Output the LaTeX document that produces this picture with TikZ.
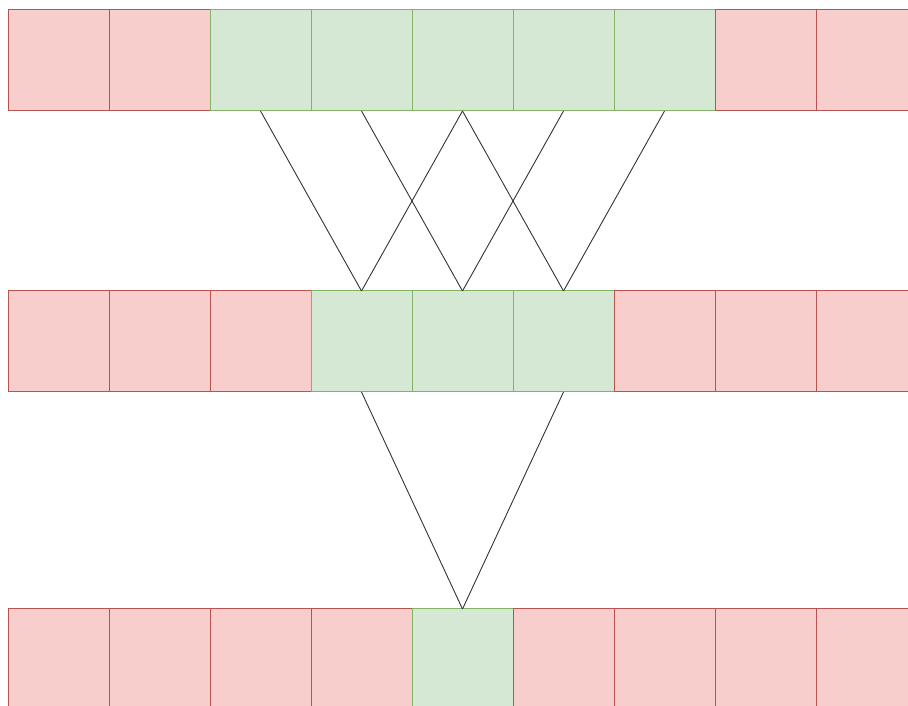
\documentclass[tikz,border=0pt]{standalone}
\usepackage{xcolor}
\usepackage{tikz}
\usetikzlibrary{positioning}
\definecolor{rojoFill}{HTML}{F8CECC}
\definecolor{rojoDraw}{HTML}{B85450}
\definecolor{verdeFill}{HTML}{D5E8D4}
\definecolor{verdeDraw}{HTML}{82B366}
\tikzset{
    celda/.style={rectangle, inner sep=0pt, outer sep=0pt, minimum width=101pt, minimum height=101pt, line width=1pt},
    celda_roja/.style={celda, draw=rojoDraw, fill=rojoFill},
    celda_verde/.style={celda, draw=verdeDraw, fill=verdeFill},
    enlace/.style={draw, line width=0.9pt, color=black!80}
}
\begin{document}
\begin{tikzpicture}[x=1pt, y=1pt]

    \useasboundingbox (0,0) rectangle (908,706);
    \clip (0,0) rectangle (908,706);

    % Fila superior: verdes de 2 a 6
    \foreach \i in {0,...,8} {
        \pgfmathtruncatemacro{\v}{(\i>=2) && (\i<=6)}
        \ifnum\v=1
            \node[celda_verde] (a\i) at (58.5+101*\i, 645.5) {};
        \else
            \node[celda_roja] (a\i) at (58.5+101*\i, 645.5) {};
        \fi
    }

    % Fila del medio: verdes de 3 a 5
    \foreach \i in {0,...,8} {
        \pgfmathtruncatemacro{\v}{(\i>=3) && (\i<=5)}
        \ifnum\v=1
            \node[celda_verde] (b\i) at (58.5+101*\i, 364.5) {};
        \else
            \node[celda_roja] (b\i) at (58.5+101*\i, 364.5) {};
        \fi
    }

    % Fila inferior: solo la 4 en verde
    \foreach \i in {0,...,8} {
        \ifnum\i=4
            \node[celda_verde] (c\i) at (58.5+101*\i, 46.5) {};
        \else
            \node[celda_roja] (c\i) at (58.5+101*\i, 46.5) {};
        \fi
    }

    % --- CONEXIONES ---
    \foreach \j in {3,4,5} {
        \pgfmathtruncatemacro{\izq}{\j-1}
        \pgfmathtruncatemacro{\der}{\j+1}
        \draw[enlace] (a\izq.south) -- (b\j.north);
        \draw[enlace] (a\der.south) -- (b\j.north);
    }
    \draw[enlace] (b3.south) -- (c4.north);
    \draw[enlace] (b5.south) -- (c4.north);

\end{tikzpicture}
\end{document}
